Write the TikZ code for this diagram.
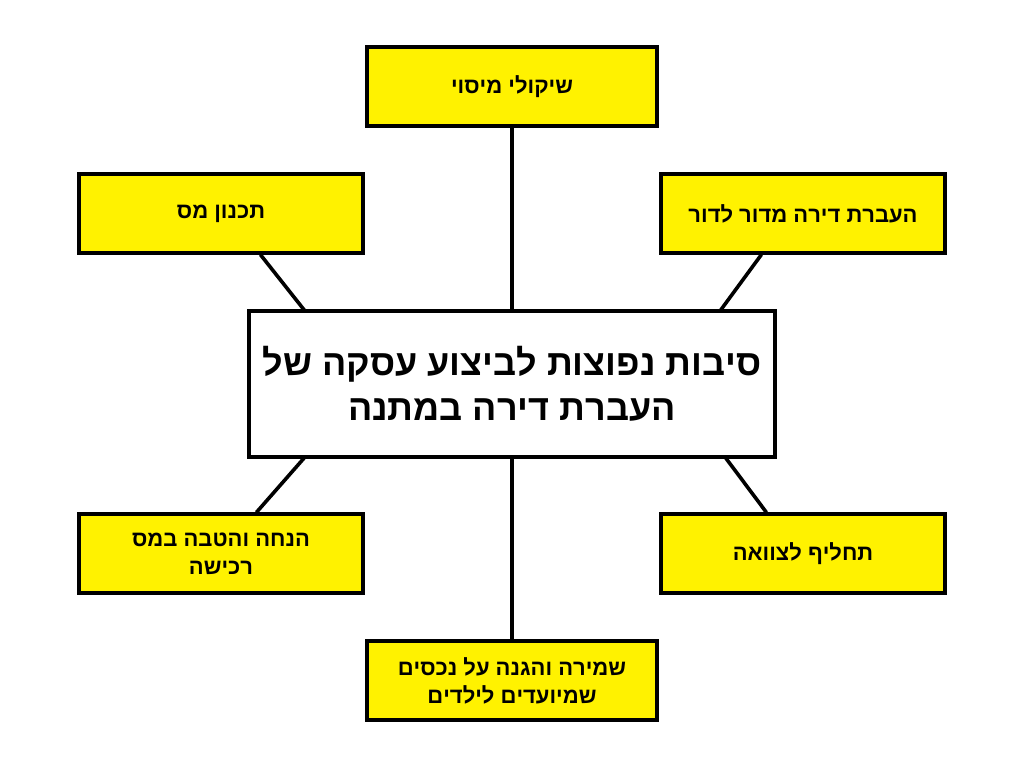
\documentclass[tikz,border=0pt]{standalone}
\usepackage{fontspec}
\setmainfont{Liberation Sans}
\TeXXeTstate=1
\definecolor{boxyellow}{HTML}{FFF200}
\newcommand{\rl}[1]{\raisebox{-1.5pt}{\beginR #1\endR}}
\tikzset{
  leaf/.style={draw=black, line width=3.2pt, fill=boxyellow, minimum width=284pt, minimum height=79pt, align=center, font=\fontsize{22}{28}\selectfont\bfseries, inner sep=0pt},
  hub/.style={draw=black, line width=3.2pt, fill=white, minimum width=526pt, minimum height=146pt, align=center, font=\fontsize{36}{45}\selectfont\bfseries, inner sep=0pt},
  link/.style={line width=3.6pt, draw=black}
}
\begin{document}
\begin{tikzpicture}[x=1pt,y=-1pt]
\fill[white] (0,0) rectangle (1024,768);
\useasboundingbox (0,0) rectangle (1024,768);
\node[hub] (c) at (512,384) {\rl{סיבות נפוצות לביצוע עסקה של}\\\rl{העברת דירה במתנה}};
\node[leaf, minimum width=290pt] (t) at (512,86.5) {\rl{שיקולי מיסוי}};
\node[leaf] (lt) at (221,213.5) {\rl{תכנון מס}};
\node[leaf] (rt) at (803,213.5) {\rl{העברת דירה מדור לדור}};
\node[leaf] (lb) at (221,553.5) {\rl{הנחה והטבה במס}\\\rl{רכישה}};
\node[leaf] (rb) at (803,553.5) {\rl{תחליף לצוואה}};
\node[leaf, minimum width=290pt] (b) at (512,680.5) {\rl{שמירה והגנה על נכסים}\\\rl{שמיועדים לילדים}};
\coordinate (ltc) at (305,311);
\coordinate (rtc) at (720,311);
\coordinate (lbc) at (305,457);
\coordinate (rbc) at (725,457);
\draw[link] (t.south) -- (c.north);
\draw[link] (b.north) -- (c.south);
\draw[link] (lt.south west) ++(183,0) -- (ltc);
\draw[link] (rt.south west) ++(102,0) -- (rtc);
\draw[link] (lb.north west) ++(179,0) -- (lbc);
\draw[link] (rb.north west) ++(107,0) -- (rbc);
\end{tikzpicture}
\end{document}
